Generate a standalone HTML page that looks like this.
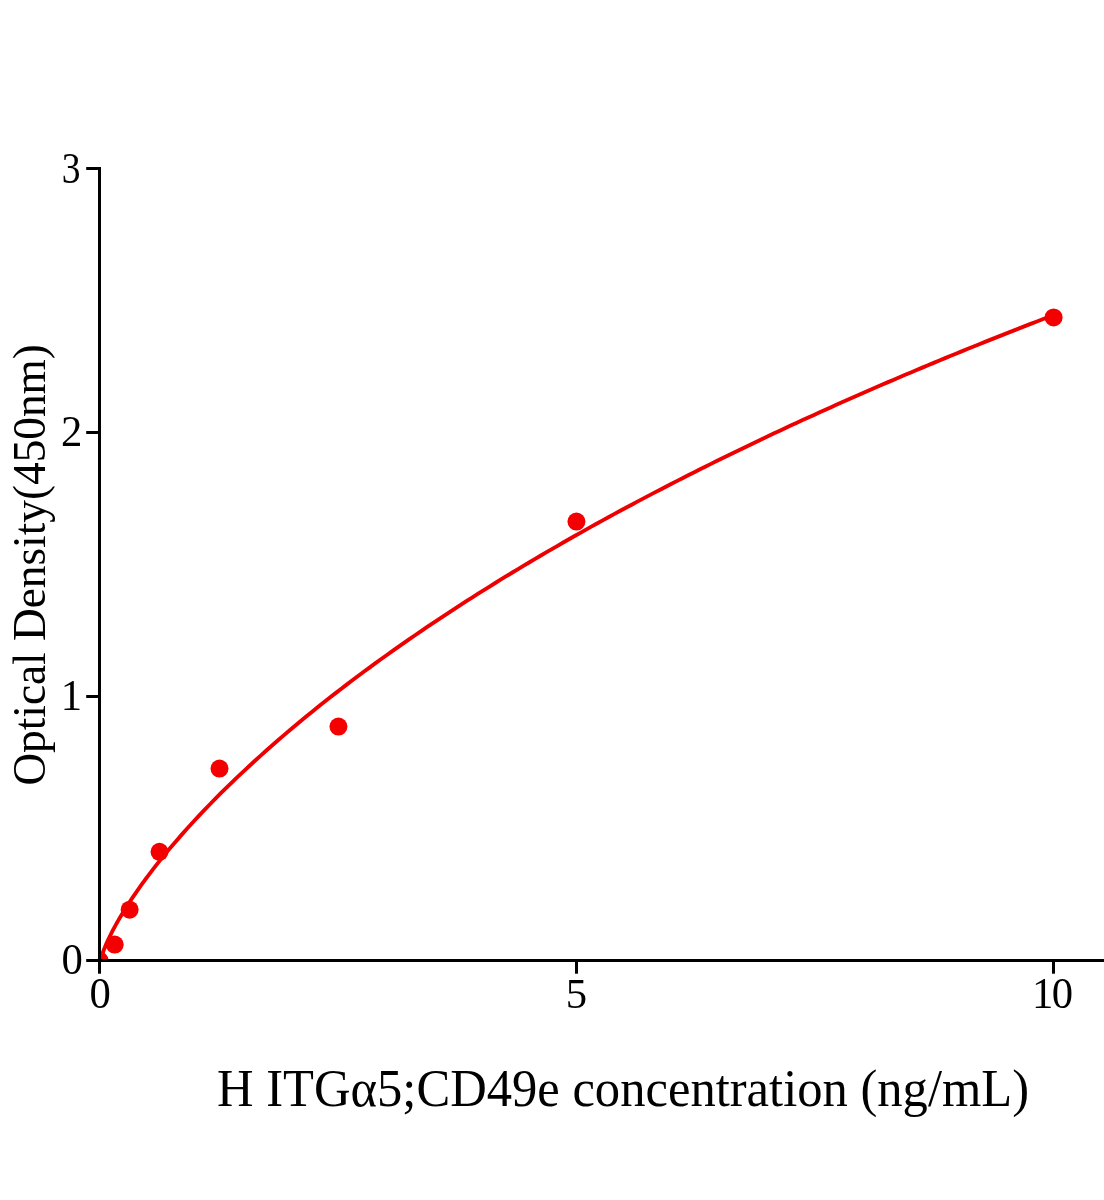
<!DOCTYPE html>
<html lang="en"><head><meta charset="utf-8"><title>H ITGα5;CD49e ELISA standard curve</title>
<style>
html,body{margin:0;padding:0;background:#fff;}
body{width:1104px;height:1200px;overflow:hidden;position:relative;}
svg{position:absolute;left:0;top:0;display:block;will-change:transform;}
text{font-family:"Liberation Serif",serif;fill:#000;}
</style></head><body>
<svg width="1104" height="1200" viewBox="0 0 1104 1200">
<rect x="0" y="0" width="1104" height="1200" fill="#fff"/>
<defs><clipPath id="plot"><rect x="101" y="0" width="1003" height="959"/></clipPath></defs>
<g fill="#f40000" clip-path="url(#plot)">
<path d="M100.20,962.34 L101.41,957.02 L102.61,953.29 L103.82,950.00 L105.03,946.97 L106.23,944.12 L107.44,941.40 L108.65,938.80 L109.86,936.28 L111.07,933.85 L112.28,931.47 L113.49,929.16 L114.70,926.90 L115.91,924.69 L117.12,922.53 L118.33,920.40 L119.54,918.31 L120.75,916.25 L121.96,914.22 L123.18,912.22 L124.39,910.25 L125.60,908.31 L126.81,906.39 L128.03,904.50 L129.24,902.62 L130.45,900.77 L131.67,898.94 L132.88,897.13 L134.10,895.33 L135.31,893.55 L136.52,891.79 L137.74,890.05 L138.95,888.32 L140.17,886.61 L141.39,884.91 L142.60,883.22 L143.82,881.55 L145.03,879.89 L146.25,878.25 L147.46,876.62 L153.14,869.16 L158.81,861.93 L164.48,854.91 L170.16,848.07 L175.84,841.40 L181.53,834.88 L187.21,828.51 L192.90,822.26 L198.59,816.14 L204.28,810.13 L209.97,804.23 L215.66,798.43 L221.35,792.73 L227.04,787.12 L232.73,781.59 L238.43,776.14 L244.12,770.78 L249.82,765.48 L255.51,760.26 L261.21,755.11 L266.91,750.03 L272.60,745.01 L278.30,740.05 L284.00,735.14 L289.70,730.30 L295.39,725.51 L301.09,720.77 L306.79,716.09 L312.49,711.46 L318.19,706.87 L323.88,702.33 L329.58,697.84 L335.28,693.39 L340.98,688.99 L346.68,684.63 L352.38,680.31 L358.08,676.02 L363.78,671.78 L369.47,667.58 L375.17,663.41 L380.87,659.28 L386.57,655.19 L392.27,651.13 L397.97,647.10 L403.67,643.11 L409.37,639.15 L415.07,635.22 L420.77,631.32 L426.47,627.46 L432.17,623.62 L437.87,619.81 L443.56,616.04 L449.26,612.29 L454.96,608.56 L460.66,604.87 L466.36,601.20 L472.06,597.56 L477.76,593.94 L483.46,590.35 L489.16,586.79 L494.86,583.25 L500.56,579.73 L506.26,576.23 L511.96,572.76 L517.66,569.32 L523.36,565.89 L529.06,562.49 L534.75,559.11 L540.45,555.75 L546.15,552.41 L551.85,549.09 L557.55,545.80 L563.25,542.52 L568.95,539.27 L574.65,536.03 L580.35,532.81 L586.05,529.61 L591.75,526.43 L597.45,523.27 L603.15,520.13 L608.85,517.01 L614.55,513.90 L620.25,510.81 L625.94,507.74 L631.64,504.69 L637.34,501.65 L643.04,498.63 L648.74,495.63 L654.44,492.64 L660.14,489.67 L665.84,486.71 L671.54,483.77 L677.24,480.85 L682.94,477.94 L688.64,475.05 L694.34,472.17 L700.04,469.30 L705.74,466.45 L711.44,463.62 L717.14,460.80 L722.83,457.99 L728.53,455.20 L734.23,452.42 L739.93,449.66 L745.63,446.91 L751.33,444.17 L757.03,441.44 L762.73,438.73 L768.43,436.03 L774.13,433.35 L779.83,430.67 L785.53,428.01 L791.23,425.37 L796.93,422.73 L802.63,420.11 L808.33,417.49 L814.03,414.89 L819.72,412.31 L825.42,409.73 L831.12,407.17 L836.82,404.61 L842.52,402.07 L848.22,399.54 L853.92,397.02 L859.62,394.51 L865.32,392.01 L871.02,389.53 L876.72,387.05 L882.42,384.58 L888.12,382.13 L893.82,379.68 L899.52,377.25 L905.22,374.83 L910.91,372.41 L916.61,370.01 L922.31,367.61 L928.01,365.23 L933.71,362.85 L939.41,360.49 L945.11,358.13 L950.81,355.79 L956.51,353.45 L962.21,351.13 L967.91,348.81 L973.61,346.50 L979.31,344.20 L985.01,341.91 L990.71,339.63 L996.41,337.35 L1002.11,335.09 L1007.80,332.84 L1013.50,330.59 L1019.20,328.35 L1024.90,326.12 L1030.60,323.90 L1036.30,321.69 L1042.00,319.48 L1047.70,317.29 L1053.40,315.10" fill="none" stroke="#ee0000" stroke-width="3.85" stroke-linejoin="round"/>
<circle cx="99.5" cy="960.5" r="9.0"/>
<circle cx="114.7" cy="944.6" r="9.0"/>
<circle cx="129.65" cy="909.7" r="9.0"/>
<circle cx="159.5" cy="851.8" r="9.0"/>
<circle cx="219.5" cy="768.55" r="9.0"/>
<circle cx="338.45" cy="726.6" r="9.0"/>
<circle cx="576.45" cy="521.6" r="9.0"/>
<circle cx="1053.6" cy="317.45" r="9.0"/>
</g>
<g fill="#000">
<rect x="98" y="167" width="3" height="806.7"/>
<rect x="86.2" y="959" width="1017.8" height="3"/>
<rect x="86.2" y="167" width="12" height="3"/>
<rect x="86.2" y="431" width="12" height="3"/>
<rect x="86.2" y="695" width="12" height="3"/>
<rect x="575" y="962" width="3" height="11.7"/>
<rect x="1052" y="962" width="3" height="11.7"/>
</g>
<g font-size="42.7" text-anchor="middle">
<text transform="translate(71.1,183) scale(0.88,1.025)">3</text>
<text transform="translate(71.6,446.1) scale(1,1.025)">2</text>
<text transform="translate(71.3,710.1) scale(1,1.025)">1</text>
<text transform="translate(72.2,974.2) scale(1,1.025)">0</text>
<text transform="translate(100.2,1007.8) scale(1,1.025)">0</text>
<text transform="translate(576.5,1008.3) scale(1,1.01)">5</text>
<text transform="translate(0,1008.3) scale(1,1.015)" x="1042.6 1062.5">10</text>
</g>
<text font-size="53" transform="translate(217,1106) scale(0.955,1)" id="xt">H ITGα5;CD49e concentration (ng/mL)</text>
<text font-size="46.9" transform="translate(45.2,785.6) rotate(-90) scale(0.966,1)" id="yt">Optical Density(450nm)</text>
</svg>
</body></html>
